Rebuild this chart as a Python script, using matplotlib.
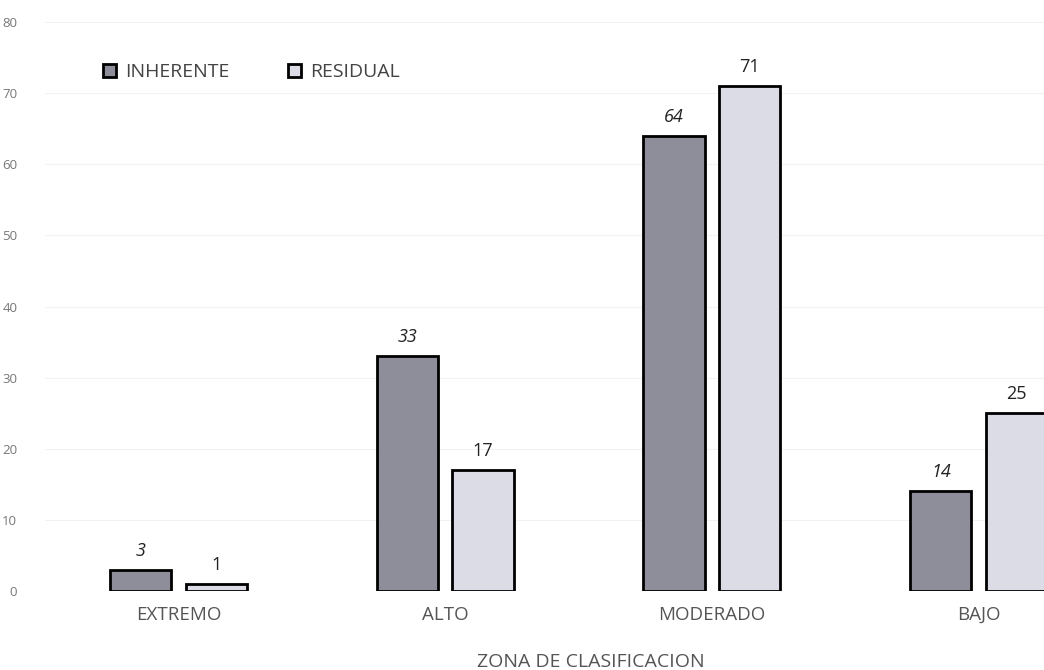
import numpy as np
import matplotlib.pyplot as plt

plt.rcParams['font.family'] = ['Open Sans', 'DejaVu Sans']

# datos
zonas = ['EXTREMO', 'ALTO', 'MODERADO', 'BAJO']
inherente = [3, 33, 64, 14]
residual = [1, 17, 71, 25]

fig = plt.figure(figsize=(10.44, 6.7), dpi=100)
ax = fig.add_axes([45/1044, 79/670, 1 - 45/1044, (648 - 79)/670])

x = np.arange(len(zonas))
w = 0.23
off = 0.142
b1 = ax.bar(x - off, inherente, w, color='#8e8e9b', edgecolor='black', linewidth=2,
            label='INHERENTE', zorder=3)
b2 = ax.bar(x + off, residual, w, color='#dcdce6', edgecolor='black', linewidth=2,
            label='RESIDUAL', zorder=3)

for r, v in zip(b1, inherente):
    ax.text(r.get_x() + r.get_width()/2, v + 1.4, str(v), ha='center', va='bottom',
            fontsize=13, style='italic', color='#222222')
for r, v in zip(b2, residual):
    ax.text(r.get_x() + r.get_width()/2, v + 1.4, str(v), ha='center', va='bottom',
            fontsize=13, color='#222222')

ax.set_xlim(-0.5, 3.245)
ax.set_ylim(0, 80)
ax.set_yticks(range(0, 81, 10))
ax.set_xticks(x)
ax.set_xticklabels(zonas, fontsize=13.5, color='#555555')
ax.tick_params(axis='y', labelsize=9.5, labelcolor='#777777', length=0, pad=20)
ax.tick_params(axis='x', length=0, pad=11)
ax.grid(axis='y', color='#f2f2f2', linewidth=0.8, zorder=0)
for s in ax.spines.values():
    s.set_visible(False)

fig.text(591/1044, 1 - 662/670, 'ZONA DE CLASIFICACION', ha='center', va='center',
         fontsize=14, color='#555555')

leg = fig.legend(handles=[b1, b2], loc='center left',
                 bbox_to_anchor=(103/1044, 1 - 72/670), ncol=2, frameon=False,
                 fontsize=14, handlelength=0.65, handleheight=0.65, columnspacing=3.0,
                 handletextpad=0.5, borderpad=0, borderaxespad=0)
for t in leg.get_texts():
    t.set_color('#444444')

fig.savefig('out.png', dpi=100)
